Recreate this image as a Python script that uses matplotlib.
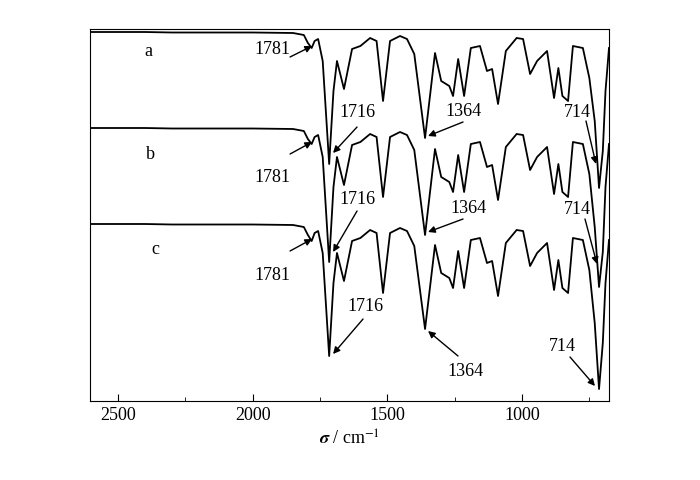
import matplotlib
matplotlib.use("Agg")
import matplotlib.pyplot as plt
import numpy as np
from matplotlib.ticker import MultipleLocator

plt.rcParams['font.family'] = ['Liberation Serif', 'DejaVu Serif']
plt.rcParams['mathtext.fontset'] = 'stix'

wavenumber = [2600, 2400, 2300, 2000, 1850, 1810, 1795, 1781, 1770, 1757, 1740, 1716, 1700,
              1687, 1661, 1631, 1600, 1564, 1540, 1516, 1490, 1453, 1427, 1400, 1360,
              1323, 1300, 1270, 1256, 1237, 1215, 1190, 1156, 1130, 1111, 1089, 1060,
              1020, 996, 970, 944, 907, 881, 865, 850, 829, 811, 774, 750, 730, 714,
              700, 690, 677]
# depth of each curve below its own baseline (arbitrary transmittance units)
depth_a = [1, 1, 1.5, 1.5, 2, 4, 12, 17, 10, 8, 30, 133, 60,
           30, 58, 18, 15, 7, 10, 70, 10, 5, 8, 23, 107,
           22, 50, 55, 65, 28, 65, 17, 15, 40, 38, 73, 20,
           7, 8, 43, 30, 20, 67, 37, 65, 70, 15, 17, 47, 90, 157,
           120, 60, 17]
depth_b = [1, 1, 1.5, 1.5, 2, 4, 12, 17, 10, 8, 30, 135, 60,
           30, 58, 18, 15, 7, 10, 70, 10, 5, 8, 23, 108,
           22, 50, 55, 65, 28, 65, 17, 15, 40, 38, 73, 20,
           7, 8, 43, 30, 20, 67, 37, 65, 70, 15, 17, 47, 100, 160,
           125, 60, 17]
depth_c = [1, 1, 1.5, 1.5, 2, 4, 12, 18, 10, 8, 30, 133, 60,
           30, 58, 18, 15, 7, 10, 70, 10, 5, 8, 23, 106,
           22, 50, 55, 65, 28, 65, 17, 15, 40, 38, 73, 20,
           7, 8, 43, 30, 20, 67, 37, 65, 70, 15, 17, 47, 100, 166,
           120, 60, 17]
baselines = [32, 128, 224]
curve_labels = ['a', 'b', 'c']

fig = plt.figure(figsize=(7, 4.81), dpi=100)
ax = fig.add_axes([90/700, 1-402/481, (609-90)/700, (402-30)/481])

for d, b in zip([depth_a, depth_b, depth_c], baselines):
    ax.plot(wavenumber, np.array(d) + b, color='black', lw=1.3)

ax.set_xlim(2604, 677)
ax.set_ylim(402, 30)
ax.set_yticks([])
ax.xaxis.set_major_locator(MultipleLocator(500))
ax.xaxis.set_minor_locator(MultipleLocator(250))
ax.tick_params(axis='x', which='major', direction='in', length=5, labelsize=13)
ax.tick_params(axis='x', which='minor', direction='in', length=3)
ax.tick_params(top=False, right=False)
ax.set_xlabel(r'$\boldsymbol{\sigma}$ / cm$^{-1}$', fontsize=13)

def px2wn(px):
    return 1000 - (px - 522) / 0.2694

for lab, (px, py) in zip(curve_labels, [(148, 52), (150, 155), (155, 250)]):
    ax.text(px2wn(px), py, lab, fontsize=13, ha='center', va='center')

annots = [
    ('1781', (272, 50), (290, 58), (312, 47)),
    ('1716', (357, 113), (357, 128), (333, 154)),
    ('1364', (463, 112), (463, 123), (428, 137)),
    ('714', (577, 113), (586, 122), (596, 165)),
    ('1781', (272, 178), (290, 155), (312, 143)),
    ('1716', (357, 200), (357, 212), (333, 253)),
    ('1364', (468, 209), (463, 220), (428, 233)),
    ('714', (577, 210), (585, 220), (597, 265)),
    ('1781', (272, 276), (290, 252), (312, 240)),
    ('1716', (365, 307), (363, 320), (333, 355)),
    ('1364', (465, 372), (458, 357), (428, 332)),
    ('714', (562, 347), (570, 358), (595, 387)),
]
for txt, tpos, tail, tip in annots:
    ax.text(px2wn(tpos[0]), tpos[1], txt, fontsize=13, ha='center', va='center')
    ax.annotate('', xy=(px2wn(tip[0]), tip[1]), xytext=(px2wn(tail[0]), tail[1]),
                arrowprops=dict(arrowstyle='-|>', color='black', lw=1.0,
                                mutation_scale=10, shrinkA=0, shrinkB=0))

fig.savefig('out.png', dpi=100)
